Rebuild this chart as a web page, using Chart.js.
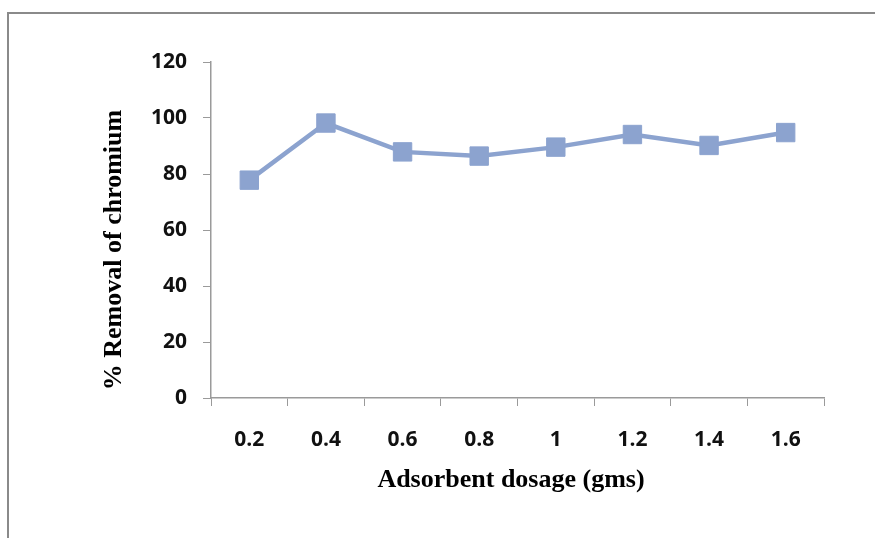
<!DOCTYPE html>
<html>
<head>
<meta charset="utf-8">
<script src="https://cdn.jsdelivr.net/npm/chart.js@4"></script>
<style>
  html, body { margin: 0; padding: 0; background: #fff; overflow: hidden; }
  #wrap { position: relative; width: 875px; height: 538px; }
  #frame { position: absolute; left: 7px; top: 12px; width: 900px; height: 600px;
           border-left: 2px solid #8a8a8a; border-top: 2px solid #8a8a8a; }
  canvas { position: absolute; left: 0; top: 0; }
</style>
</head>
<body>
<div id="wrap">
  <div id="frame"></div>
  <canvas id="chart" width="875" height="538"></canvas>
</div>
<script>
const dosage = ['0.2', '0.4', '0.6', '0.8', '1', '1.2', '1.4', '1.6'];
const removal = [77.8, 98.2, 87.9, 86.4, 89.6, 94.1, 90.2, 94.8];
const yTitle = '% Removal of chromium';
const xTitle = 'Adsorbent dosage (gms)';

const lineColor = '#8ca3cf';
const axisColor = '#9a9a9a';
const tickFont = { family: '"Open Sans", sans-serif', size: 21, weight: 'bold' };

// axis titles drawn by hand so they sit where the original has them
const axisTitles = {
  id: 'axisTitles',
  afterDraw(chart) {
    const ctx = chart.ctx;
    ctx.save();
    ctx.fillStyle = '#000';
    ctx.font = 'bold 26px "Liberation Serif", "Times New Roman", serif';
    ctx.textAlign = 'center';
    ctx.textBaseline = 'middle';
    ctx.fillText(xTitle, 511, 480);
    ctx.translate(114, 250);
    ctx.rotate(-Math.PI / 2);
    ctx.fillText(yTitle, 0, 0);
    ctx.restore();
  }
};

new Chart(document.getElementById('chart'), {
  type: 'line',
  data: {
    labels: dosage,
    datasets: [{
      data: removal,
      borderColor: lineColor,
      backgroundColor: lineColor,
      borderWidth: 4.5,
      pointStyle: 'rect',
      pointRadius: 13,
      pointBorderWidth: 1,
      pointBorderColor: lineColor,
      pointBackgroundColor: lineColor,
      tension: 0
    }]
  },
  options: {
    responsive: false,
    animation: false,
    layout: { padding: { left: 151, right: 51, top: 62, bottom: 80 } },
    plugins: { legend: { display: false }, tooltip: { enabled: false } },
    scales: {
      x: {
        offset: true,
        afterFit(scale) { scale.height = 60; },
        grid: { drawOnChartArea: false, offset: true, tickLength: 8, color: axisColor },
        border: { color: axisColor, width: 1.5 },
        ticks: { padding: 21, color: '#111', font: tickFont }
      },
      y: {
        min: 0,
        max: 120,
        afterFit(scale) { scale.width = 60; },
        grid: { drawOnChartArea: false, tickLength: 8, color: axisColor },
        border: { color: axisColor, width: 1.5 },
        ticks: { stepSize: 20, padding: 16, color: '#111', font: tickFont }
      }
    }
  },
  plugins: [axisTitles]
});
</script>
</body>
</html>
